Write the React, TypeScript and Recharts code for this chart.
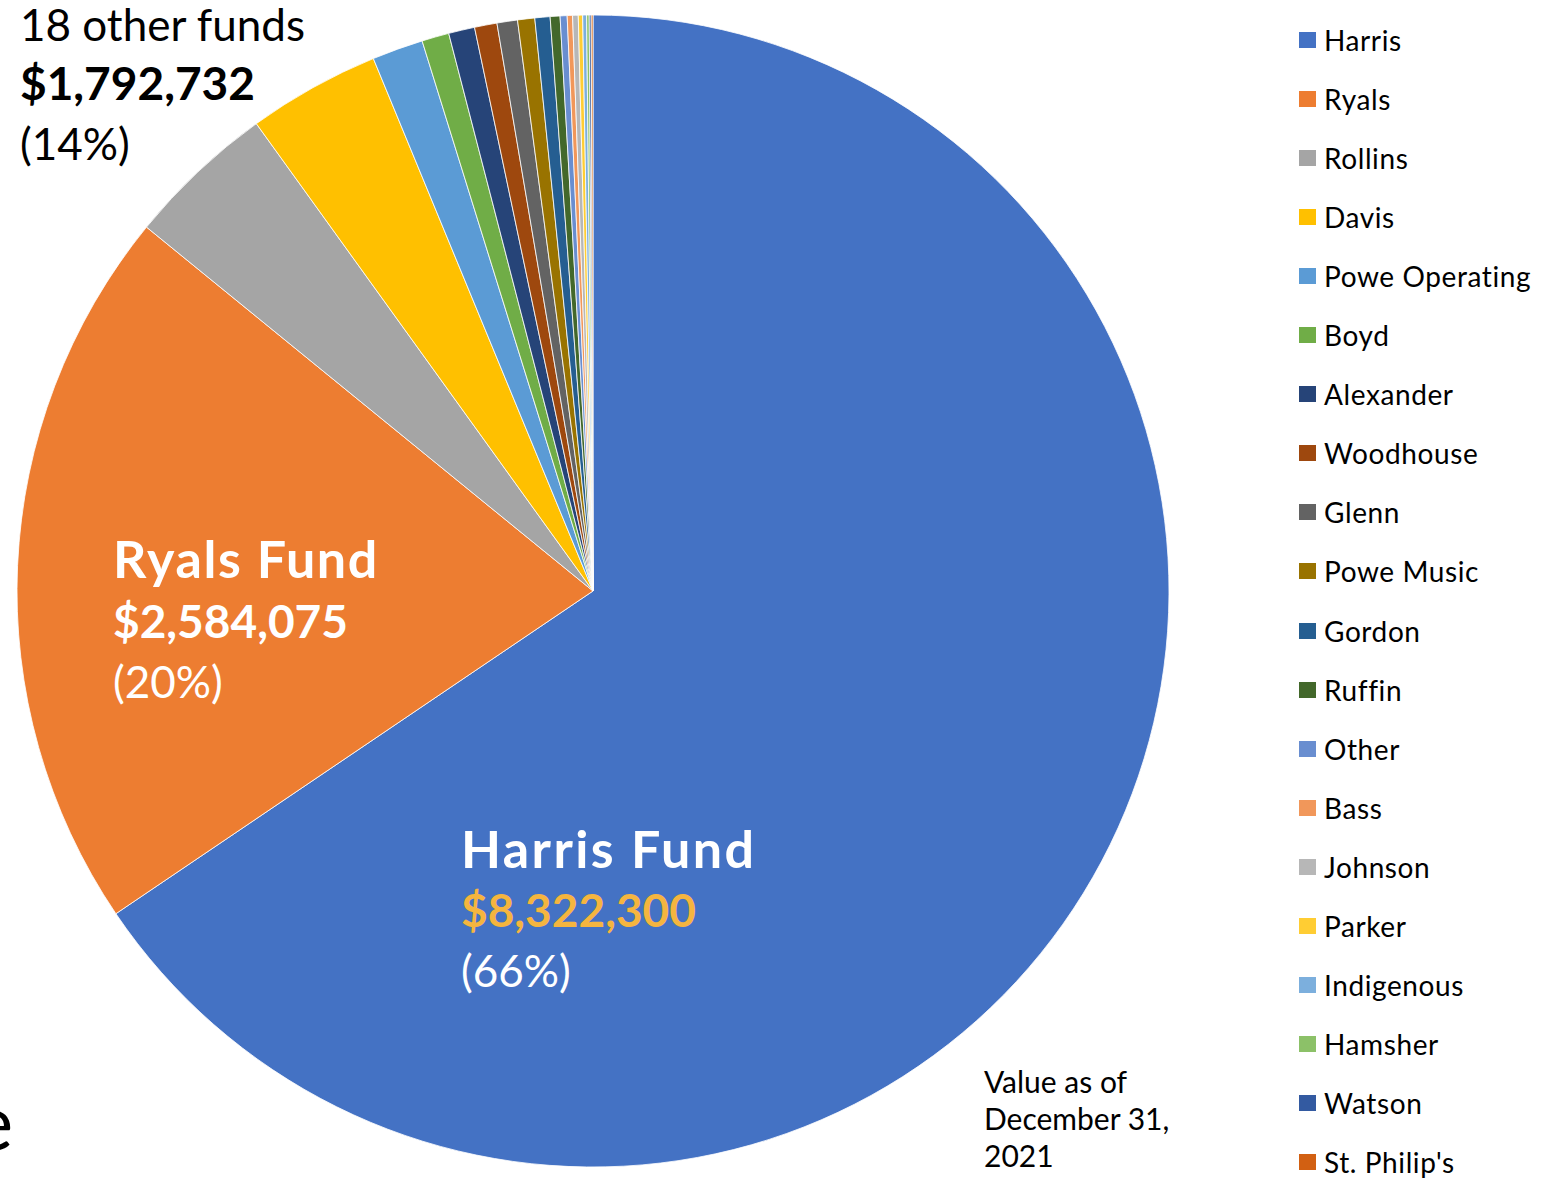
import { PieChart, Pie, Cell, Legend } from 'recharts';

const funds = [
  'Harris', 'Ryals', 'Rollins', 'Davis', 'Powe Operating', 'Boyd', 'Alexander', 'Woodhouse', 'Glenn', 'Powe Music',
  'Gordon', 'Ruffin', 'Other', 'Bass', 'Johnson', 'Parker', 'Indigenous', 'Hamsher', 'Watson', "St. Philip's",
];
const values = [
  8322300, 2584075, 531000, 471000, 182000, 97000, 93000, 80000, 73000, 61000,
  54000, 35000, 25000, 19000, 20000, 15500, 13800, 9200, 7000, 6232,
];
const colors = [
  '#4472C4', '#ED7D31', '#A5A5A5', '#FFC000', '#5B9BD5', '#70AD47', '#264478', '#9E480E', '#636363', '#997300',
  '#255E91', '#43682B', '#698ED0', '#F1975A', '#B7B7B7', '#FFCD33', '#7CAFDD', '#8CC168', '#335AA1', '#D26012',
];

const data = funds.map((name, i) => ({ name, value: values[i] }));

const font = 'Lato, "Open Sans", sans-serif';

function LegendList() {
  return (
    <div style={{ position: 'relative', fontFamily: font, fontSize: 28, color: '#000' }}>
      {funds.map((f, i) => (
        <div key={f} style={{ position: 'absolute', left: 0, top: i * 59.05 + 22, height: 36, display: 'flex', alignItems: 'center', whiteSpace: 'nowrap' }}>
          <span style={{ display: 'inline-block', width: 17, height: 16, background: colors[i], marginRight: 8 }} />
          <span style={{ letterSpacing: 0.6 }}>{f}</span>
        </div>
      ))}
    </div>
  );
}

export default function App() {
  return (
    <div style={{ position: 'absolute', left: 0, top: 0, width: 1556, height: 1178, background: '#fff', overflow: 'hidden' }}>
      <PieChart width={1556} height={1178} margin={{ top: 0, right: 0, bottom: 0, left: 0 }}>
        <Pie
          data={data}
          dataKey="value"
          nameKey="name"
          cx={593}
          cy={591}
          outerRadius={576}
          startAngle={90}
          endAngle={-270}
          stroke="#ffffff"
          strokeWidth={0.8}
          isAnimationActive={false}
        >
          {data.map((d, i) => (
            <Cell key={d.name} fill={colors[i]} />
          ))}
        </Pie>
        <Legend
          layout="vertical"
          align="right"
          verticalAlign="top"
          wrapperStyle={{ left: 1299, top: 0, width: 257, height: 1178 }}
          content={() => <LegendList />}
        />
      </PieChart>
      <svg width={1556} height={1178} style={{ position: 'absolute', left: 0, top: 0, pointerEvents: 'none' }} fontFamily={font}>
        <text x={20} y={41} fontSize={44} fill="#000">18 other funds</text>
        <text x={20} y={100} fontSize={46} fontWeight={700} fill="#000">$1,792,732</text>
        <text x={20} y={160} fontSize={44} fill="#000">(14%)</text>

        <text x={113} y={578} fontSize={52} fontWeight={700} fill="#fff" letterSpacing={1.6}>Ryals Fund</text>
        <text x={113} y={638} fontSize={46} fontWeight={700} fill="#fff">$2,584,075</text>
        <text x={113} y={698} fontSize={44} fill="#fff">(20%)</text>

        <text x={461} y={868} fontSize={52} fontWeight={700} fill="#fff" letterSpacing={2.4}>Harris Fund</text>
        <text x={461} y={927} fontSize={46} fontWeight={700} fill="#F5B53F">$8,322,300</text>
        <text x={461} y={987} fontSize={44} fill="#fff">(66%)</text>

        <text x={984} y={1093} fontSize={30} fill="#000">Value as of</text>
        <text x={984} y={1130} fontSize={30} fill="#000">December 31,</text>
        <text x={984} y={1167} fontSize={30} fill="#000">2021</text>

        <text x={-28} y={1150} fontSize={78} fill="#000">e</text>
      </svg>
    </div>
  );
}
